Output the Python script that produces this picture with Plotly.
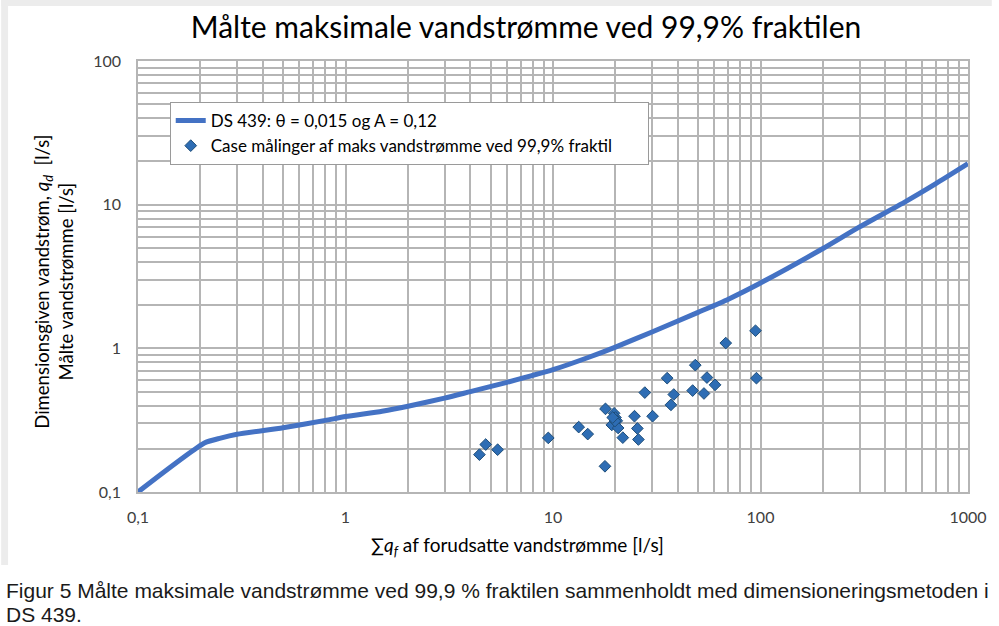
import plotly.graph_objects as go

# ---- data ----
curve_x = [0.1, 0.21, 0.25, 0.3, 0.5, 0.8, 1, 1.5, 2, 3, 4, 6, 10, 15, 20, 30, 50, 70, 100,
           200, 300, 500, 700, 1000]
curve_y = [0.1, 0.22, 0.237, 0.252, 0.28, 0.315, 0.335, 0.365, 0.395, 0.45, 0.50, 0.58, 0.71,
           0.87, 1.02, 1.3, 1.78, 2.2, 2.85, 4.95, 7.0, 10.5, 14.0, 19.3]

meas_x = [4.42, 4.74, 5.41, 9.49, 13.3, 14.7, 17.8, 17.9, 19.7, 20.0, 20.3, 19.2, 20.6, 21.7,
          24.7, 25.5, 25.8, 27.7, 30.2, 35.5, 38.2, 37.0, 48.5, 47.1, 55.2, 53.4, 60.4, 68.0,
          94.6, 95.6, 19.9, 19.4]
meas_y = [0.182, 0.214, 0.197, 0.238, 0.283, 0.253, 0.151, 0.379, 0.353, 0.330, 0.313, 0.293,
          0.279, 0.239, 0.337, 0.277, 0.232, 0.492, 0.337, 0.620, 0.477, 0.404, 0.764, 0.508,
          0.626, 0.485, 0.557, 1.088, 1.326, 0.620, 0.312, 0.330]

x_ticks = [0.1, 1, 10, 100, 1000]
x_ticktext = ["0,1", "1", "10", "100", "1000"]
y_ticks = [0.1, 1, 10, 100]
y_ticktext = ["0,1", "1", "10", "100"]

curve_name = "DS 439: θ = 0,015 og A = 0,12"
meas_name = "Case målinger af maks vandstrømme ved 99,9% fraktil"
title_text = "Målte maksimale vandstrømme ved 99,9% fraktilen"
ytitle = "Dimensionsgiven vandstrøm, <i>q<sub>d</sub></i>  [l/s]<br>Målte vandstrømme [l/s]"
xtitle = "∑<i>q<sub>f</sub></i> af forudsatte vandstrømme [l/s]"
caption1 = "Figur 5 Målte maksimale vandstrømme ved 99,9 % fraktilen sammenholdt med dimensioneringsmetoden i"
caption2 = "DS 439."

# ---- layout geometry (pixels) ----
W, H = 999, 626
L, R, T, B = 138, 24, 61, 134
PW, PH = W - L - R, H - T - B

def px2x(px):
    return (px - L) / PW

def py2y(py):
    return (H - B - py) / PH

minor_x = [m * 10 ** e for e in range(-1, 3) for m in range(2, 10)]
minor_y = [m * 10 ** e for e in range(-1, 2) for m in range(2, 10)]

FONT = "Lato"
GRID = "#b5b5b5"
LEGEND_PAD = "\u00a0" * 7  # widens the legend box to match the reference

fig = go.Figure()
fig.add_trace(go.Scatter(x=curve_x, y=curve_y, mode="lines", name=curve_name,
                         line=dict(color="#4472C4", width=5, shape="spline", smoothing=0.6)))
fig.add_trace(go.Scatter(x=meas_x, y=meas_y, mode="markers", name=meas_name + LEGEND_PAD,
                         marker=dict(symbol="diamond", size=9, color="#2E6DB4",
                                     line=dict(color="#1F4E79", width=1))))

axis_common = dict(showgrid=True, gridcolor=GRID, gridwidth=1.5, showline=True,
                   linecolor=GRID, linewidth=1.5, mirror=True, ticks="", zeroline=False,
                   tickfont=dict(family=FONT, size=16, color="#404040"))

fig.update_xaxes(type="log", range=[-1, 3], tickmode="array", tickvals=x_ticks,
                 ticktext=x_ticktext, ticklabelstandoff=10,
                 minor=dict(showgrid=True, gridcolor=GRID, gridwidth=1.5,
                            tickmode="array", tickvals=minor_x), **axis_common)
fig.update_yaxes(type="log", range=[-1, 2], tickmode="array", tickvals=y_ticks,
                 ticktext=y_ticktext, ticklabelstandoff=12,
                 minor=dict(showgrid=True, gridcolor=GRID, gridwidth=1.5,
                            tickmode="array", tickvals=minor_y), **axis_common)

shapes = [
    dict(type="rect", xref="paper", yref="paper", x0=px2x(0), x1=px2x(W), y0=py2y(6), y1=py2y(0),
         fillcolor="#ececec", line=dict(width=0), layer="below"),
    dict(type="rect", xref="paper", yref="paper", x0=px2x(0), x1=px2x(7), y0=py2y(565), y1=py2y(0),
         fillcolor="#ececec", line=dict(width=0), layer="below"),
]

annotations = [
    dict(text=ytitle, textangle=-90, xref="paper", yref="paper", x=px2x(53), y=py2y(282),
         xanchor="center", yanchor="middle", showarrow=False,
         font=dict(family=FONT, size=18.5, color="#000000")),
    dict(text=xtitle, xref="paper", yref="paper", x=px2x(521), y=py2y(546),
         xanchor="center", yanchor="middle", showarrow=False,
         font=dict(family=FONT, size=19, color="#000000")),
    dict(text=caption1, xref="paper", yref="paper", x=px2x(3), y=py2y(590),
         xanchor="left", yanchor="middle", showarrow=False,
         font=dict(family="Liberation Sans", size=21, color="#1a1a1a")),
    dict(text=caption2, xref="paper", yref="paper", x=px2x(3), y=py2y(614),
         xanchor="left", yanchor="middle", showarrow=False,
         font=dict(family="Liberation Sans", size=21, color="#1a1a1a")),
]

fig.update_layout(
    width=W, height=H, margin=dict(l=L, r=R, t=T, b=B),
    paper_bgcolor="white", plot_bgcolor="white",
    title=dict(text=title_text, x=526 / W, xref="container", xanchor="center",
               y=1 - 27 / H, yanchor="middle", yref="container",
               font=dict(family=FONT, size=30, color="#000000")),
    legend=dict(x=px2x(170), y=py2y(102), xanchor="left", yanchor="top",
                bgcolor="white", bordercolor="#9a9a9a", borderwidth=1,
                font=dict(family=FONT, size=17, color="#000000"),
                tracegroupgap=2),
    shapes=shapes, annotations=annotations, showlegend=True,
)

fig.write_html("out.html", config={"displayModeBar": False},
               post_script="document.body.style.margin='0';")
